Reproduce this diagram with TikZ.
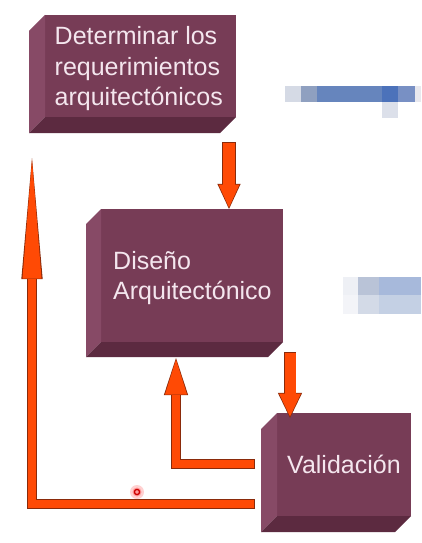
\documentclass[tikz,border=0pt]{standalone}
\usepackage{fontspec}
\setmainfont{Liberation Sans}
\usetikzlibrary{calc,arrows.meta}
\definecolor{front}{HTML}{773C56}
\definecolor{sideL}{HTML}{874A66}
\definecolor{sideB}{HTML}{5C2A40}
\definecolor{txt}{HTML}{F4E6EE}
\definecolor{arr}{HTML}{FF4A05}
\definecolor{arrline}{HTML}{8A2A0A}
\definecolor{pxa}{HTML}{D5DAE5}
\definecolor{pxb}{HTML}{8FA0C0}
\definecolor{pxc}{HTML}{6685BD}
\definecolor{pxd}{HTML}{4C72BA}
\definecolor{pxe}{HTML}{7890C4}
\definecolor{pxf}{HTML}{E8E8EE}
\definecolor{pxg}{HTML}{DCE0EA}
\definecolor{pxh}{HTML}{EEF0F5}
\definecolor{pxi}{HTML}{B9C3D7}
\definecolor{pxj}{HTML}{A7B9DB}
\definecolor{pxk}{HTML}{F3F4F8}
\definecolor{pxl}{HTML}{D3DAE7}
\definecolor{pxm}{HTML}{C4D0E4}
\newcommand\boxsides[2]{%
  \fill[sideL] (#1.north west) -- ++(-#2,#2) -- ($(#1.south west)+(-#2,#2)$) -- (#1.south west) -- cycle;
  \fill[sideB] (#1.south west) -- ++(-#2,#2) -- ($(#1.south east)+(-#2,#2)$) -- (#1.south east) -- cycle;}
\newcommand\flowarrow[4]{%
  \pgfmathsetmacro\flowlw{#1+1.2}%
  \pgfmathsetmacro\flowhw{#2+2.4}%
  \pgfmathsetmacro\flowhl{#3+2.2}%
  \draw[arrline, line width=\flowlw pt, line join=miter, -{Triangle[width=\flowhw pt,length=\flowhl pt,line width=0pt]}] #4;
  \draw[arr, line width=#1pt, line join=miter, shorten >=1.5pt, shorten <=0.6pt, -{Triangle[width=#2pt,length=#3pt,line width=0pt]}] #4;}
\begin{document}
\begin{tikzpicture}[x=1pt,y=-1pt,
  face/.style={fill=front, draw=none, inner sep=0pt, outer sep=0pt, anchor=north west},
  lbl/.style={text=txt, font=\fontsize{25}{30}\selectfont, inner sep=0pt, anchor=base west}]
\useasboundingbox (0,0) rectangle (421,543);
\fill[white] (0,0) rectangle (421,543);
% pixelated blue blocks
\fill[pxa] (285,86) rectangle (301,102);
\fill[pxb] (301,86) rectangle (317,102);
\fill[pxc] (317,86) rectangle (382,102);
\fill[pxd] (382,86) rectangle (398,102);
\fill[pxe] (398,86) rectangle (415,102);
\fill[pxf] (415,86) rectangle (421,102);
\fill[pxg] (382,102) rectangle (398,118);
\fill[pxh] (343,277) rectangle (358,295);
\fill[pxi] (358,277) rectangle (379,295);
\fill[pxj] (379,277) rectangle (421,295);
\fill[pxk] (343,295) rectangle (358,314);
\fill[pxl] (358,295) rectangle (379,314);
\fill[pxm] (379,295) rectangle (421,314);
% boxes
\node[face, minimum width=191pt, minimum height=102pt] (b1) at (45,15) {};
\boxsides{b1}{16}
\node[face, minimum width=182pt, minimum height=133pt] (b2) at (101,209) {};
\boxsides{b2}{15}
\node[face, minimum width=134pt, minimum height=103pt] (b3) at (277,413) {};
\boxsides{b3}{16}
% texts
\node[lbl] (t1a) at (54.5,45) {Determinar los};
\node[lbl] (t1b) at (54.5,75) {requerimientos};
\node[lbl] (t1c) at (54.5,105) {arquitectónicos};
\node[lbl] (t2a) at (113,269) {Diseño};
\node[lbl] (t2b) at (113,299) {Arquitectónico};
\node[lbl] (t3a) at (287,473) {Validación};
% connector coordinates
\coordinate (a1s) at (229,142);
\coordinate (a2s) at (290,352);
\coordinate (b2bot) at ($(b2.south)+(0,16)$);
\coordinate (b3top) at ($(b3.north)+(0,5)$);
\coordinate (a3s) at (255,464);
\coordinate (a3c) at (176,464);
\coordinate (a4s) at (255,504);
\coordinate (a4c) at (32,504);
\coordinate (a4e) at (32,158);
% arrows
\flowarrow{12}{21}{23}{(a1s) -- (a1s |- b2.north)}
\flowarrow{11}{22}{23}{(a2s) -- (a2s |- b3top)}
\flowarrow{8.5}{22}{35}{(a3s) -- (a3c) -- (a3c |- b2bot)}
\flowarrow{8}{19}{119}{(a4s) -- (a4c) -- (a4e)}
% pointer dot
\fill[red!18] (137,492) circle (7);
\fill[red!40] (137,492) circle (4.5);
\draw[red!80!black, line width=1.3pt] (137,492) circle (2.6);
\end{tikzpicture}
\end{document}
